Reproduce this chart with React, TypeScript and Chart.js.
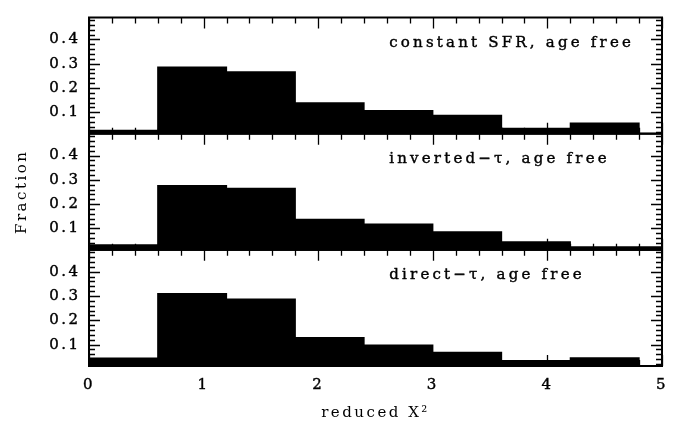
import React, { useEffect, useRef } from "react";
import { Chart, registerables } from "chart.js";

Chart.register(...registerables);

// Histogram bins (centres of 0.6-wide bins)
const binCenters = [0.3, 0.9, 1.5, 2.1, 2.7, 3.3, 3.9, 4.5, 5.1];
const constantSFR = [0.026, 0.286, 0.266, 0.139, 0.107, 0.087, 0.034, 0.055, null];
const invertedTau = [0.033, 0.276, 0.265, 0.137, 0.118, 0.086, 0.045, 0.024, 0.024];
const directTau = [0.045, 0.31, 0.287, 0.129, 0.098, 0.068, 0.034, 0.046, null];
const panelLabels = ["constant SFR, age free", "inverted\u2212\u03c4, age free", "direct\u2212\u03c4, age free"];
const xTickValues = [0, 1, 2, 3, 4, 5];
const yTickValues = [0.1, 0.2, 0.3, 0.4];
const xMin = 0;
const xMax = 5;
const yMin = 0.012;
const yMax = 0.49;
const xMinorStep = 0.2;
const yMinorStep = 0.02;
const labelX = 2.62;

const FONT = '"DejaVu Serif", serif';
const series = [constantSFR, invertedTau, directTau];
const yIds = ["y1", "y2", "y3"];

const framePlugin = {
  id: "frames",
  beforeDraw(chart: any) {
    chart.ctx.letterSpacing = "2.5px";
  },
  afterDraw(chart: any) {
    const ctx = chart.ctx;
    const xs = chart.scales.x;
    const left = chart.chartArea.left;
    const right = chart.chartArea.right;
    ctx.save();
    ctx.strokeStyle = "#000";
    ctx.fillStyle = "#000";
    yIds.forEach((id, i) => {
      const ys = chart.scales[id];
      const top = ys.top;
      const bottom = ys.bottom;
      ctx.letterSpacing = "0px";
      ctx.lineWidth = 1.3;
      ctx.beginPath();
      const nY = Math.round(yMax / yMinorStep);
      for (let k = 1; k <= nY; k++) {
        const v = k * yMinorStep;
        if (v <= yMin || v >= yMax) continue;
        const p = Math.round(ys.getPixelForValue(v)) + 0.5;
        const len = k % 5 === 0 ? 11 : 6;
        ctx.moveTo(left, p);
        ctx.lineTo(left + len, p);
        ctx.moveTo(right, p);
        ctx.lineTo(right - len, p);
      }
      const nX = Math.round((xMax - xMin) / xMinorStep);
      for (let k = 0; k <= nX; k++) {
        const v = xMin + k * xMinorStep;
        const p = Math.round(xs.getPixelForValue(v)) + 0.5;
        const len = k % 5 === 0 ? 11 : 6;
        ctx.moveTo(p, top);
        ctx.lineTo(p, top + len);
        ctx.moveTo(p, bottom);
        ctx.lineTo(p, bottom - len);
      }
      ctx.stroke();
      ctx.lineWidth = 2;
      ctx.strokeRect(left, top, right - left, bottom - top);
      ctx.font = `15px ${FONT}`;
      ctx.letterSpacing = "3.2px";
      ctx.textAlign = "left";
      ctx.textBaseline = "alphabetic";
      const tx = xs.getPixelForValue(labelX);
      ctx.fillText(panelLabels[i], tx, top + 29);
      ctx.lineWidth = 0.4;
      ctx.strokeText(panelLabels[i], tx, top + 29);
    });
    ctx.restore();
  },
};

function makeY(i: number) {
  return {
    type: "linear",
    position: "left",
    stack: "panels",
    stackWeight: 1,
    min: yMin,
    max: yMax,
    grid: { display: false, drawTicks: false },
    border: { display: false },
    afterBuildTicks: (s: any) => {
      s.ticks = yTickValues.map((v) => ({ value: v }));
    },
    afterFit: (s: any) => {
      s.width = 89;
    },
    ticks: {
      color: "#000",
      padding: 8.5,
      textStrokeColor: "#000",
      textStrokeWidth: 0.4,
      font: { family: FONT, size: 15 },
      callback: (v: any) => Number(v).toFixed(1),
    },
    title: {
      display: i === 1,
      text: "Fraction",
      color: "#000",
      font: { family: FONT, size: 15 },
      padding: { top: 13.5, bottom: 0 },
    },
  };
}

export default function App() {
  const ref = useRef<HTMLCanvasElement>(null);
  useEffect(() => {
    if (!ref.current) return;
    const chart = new Chart(ref.current, {
      type: "bar",
      data: {
        datasets: series.map((vals, i) => ({
          data: binCenters.map((x, j) => ({ x, y: vals[j] })),
          yAxisID: yIds[i],
          backgroundColor: "#000",
          borderWidth: 0,
          inflateAmount: 0.6,
          base: yMin,
          grouped: false,
          barPercentage: 1,
          categoryPercentage: 1,
        })) as any,
      },
      options: {
        responsive: false,
        animation: false,
        events: [],
        layout: { padding: { left: 0, right: 16, top: 10, bottom: 0 } },
        plugins: { legend: { display: false }, tooltip: { enabled: false } },
        scales: {
          x: {
            type: "linear",
            position: "bottom",
            offset: false,
            min: xMin,
            max: xMax,
            grid: { display: false, drawTicks: false, offset: false },
            border: { display: false },
            afterBuildTicks: (s: any) => {
              s.ticks = xTickValues.map((v) => ({ value: v }));
            },
            afterFit: (s: any) => {
              s.height = 58;
            },
            ticks: {
              color: "#000",
              padding: 10,
              maxRotation: 0,
              textStrokeColor: "#000",
              textStrokeWidth: 0.4,
              font: { family: FONT, size: 15 },
              callback: (v: any) => String(v),
            },
            title: {
              display: true,
              text: "reduced X\u00b2",
              color: "#000",
              font: { family: FONT, size: 15 },
              padding: { top: 0, bottom: 2 },
            },
          },
          y3: makeY(2),
          y2: makeY(1),
          y1: makeY(0),
        } as any,
      },
      plugins: [framePlugin],
    });
    return () => chart.destroy();
  }, []);
  return (
    <div style={{ position: "absolute", left: 0, top: 0, width: 678, height: 424, background: "#fff" }}>
      <canvas ref={ref} width={678} height={424} />
    </div>
  );
}
